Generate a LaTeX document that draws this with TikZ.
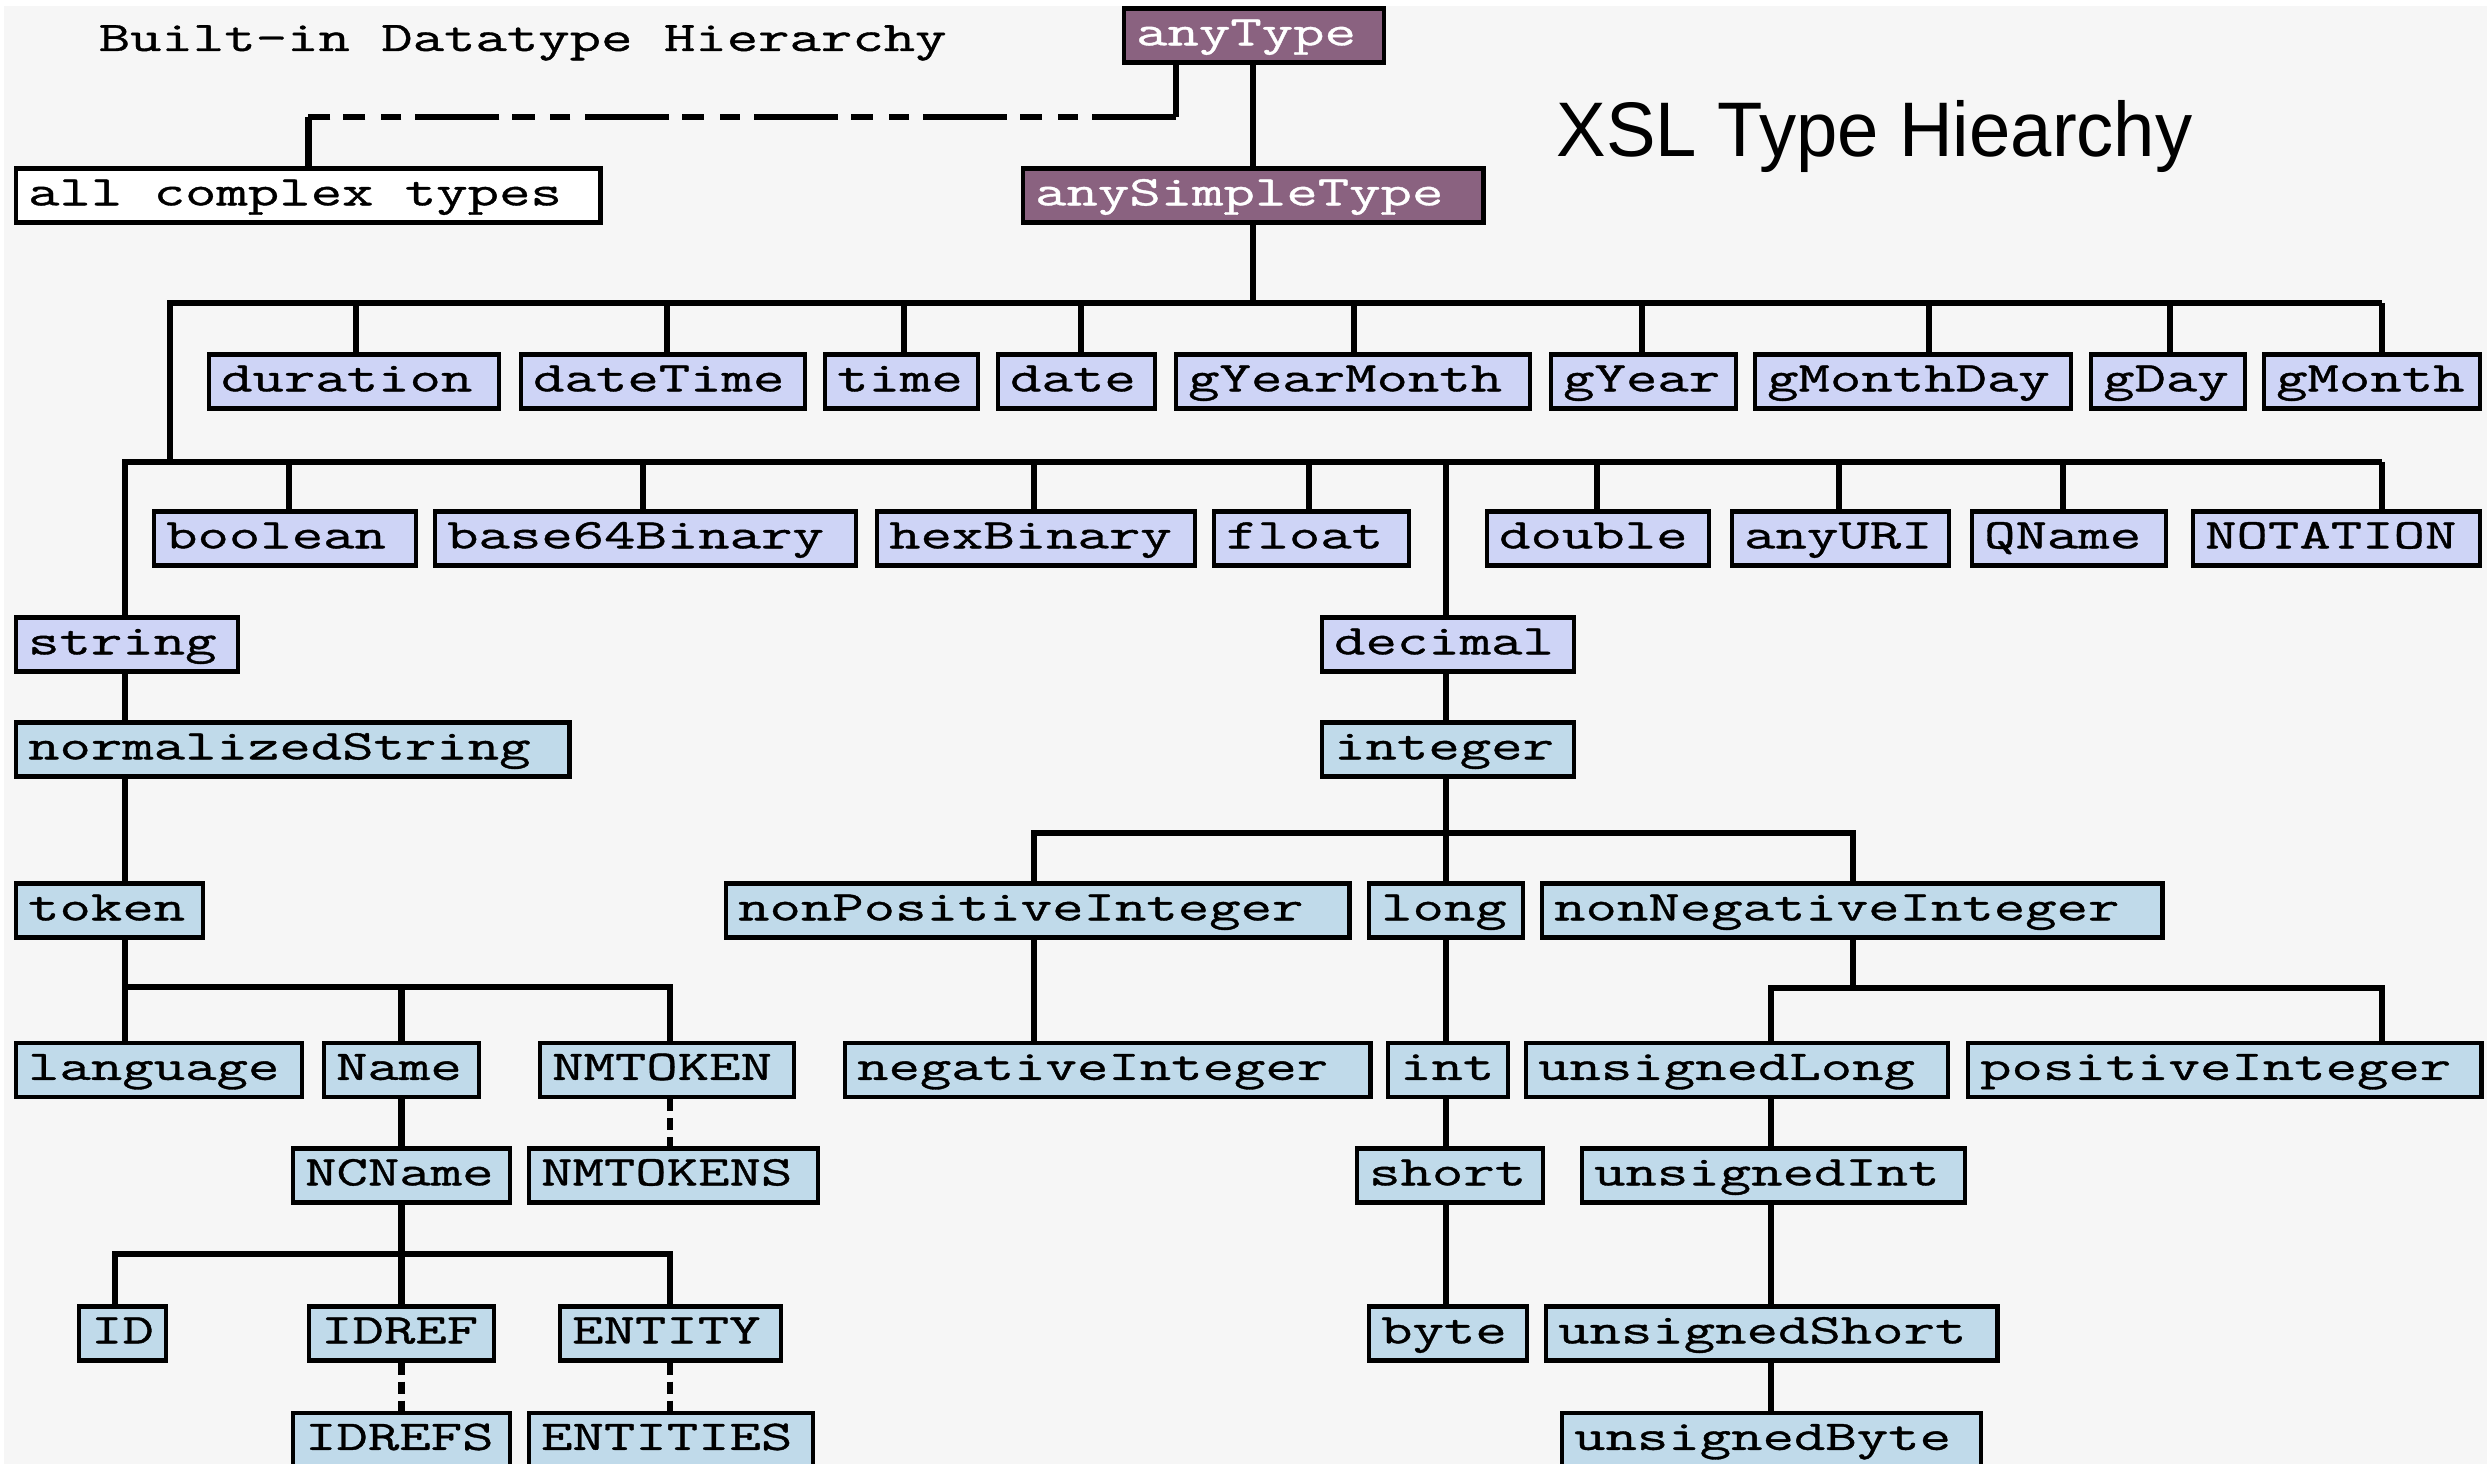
\documentclass[tikz,border=0pt]{standalone}
\usepackage{fontspec}
\newfontfamily\boxfont[FakeStretch=1.445,FakeBold=0.9]{Latin Modern Mono}
\newfontfamily\headfont[FakeStretch=0.96]{Liberation Sans}
\definecolor{bgcol}{RGB}{246,246,246}
\definecolor{primcol}{RGB}{206,212,246}
\definecolor{derivcol}{RGB}{192,218,234}
\definecolor{rootcol}{RGB}{138,98,128}
\tikzset{
  box/.style={draw=black,line width=1.2pt,anchor=west,inner xsep=0.12cm,inner ysep=0pt,
    minimum height=0.54cm,text height=8.6pt,text depth=3.0pt,align=left,
    font=\boxfont\fontsize{12}{13}\selectfont},
  prim/.style={box,fill=primcol},
  deriv/.style={box,fill=derivcol},
  roottype/.style={box,fill=rootcol,text=white},
  link/.style={line width=1.9pt},
  weak/.style={dash pattern=on 3.4pt off 2pt},
  mixed/.style={dash pattern=on 23.9pt off 4pt on 5.7pt off 4.5pt on 6.3pt off 3.7pt}
}
\newcommand{\gap}{\hphantom{x}}
\begin{document}
\begin{tikzpicture}[x=0.01cm,y=-0.01cm]
\useasboundingbox (0,0) rectangle (2487,1464);
\fill[white] (0,0) rectangle (2487,1464);
\fill[bgcol] (4,6) rectangle (2487,1464);
%% titles
\node[anchor=base west,inner sep=0pt,font=\boxfont\fontsize{12}{13}\selectfont] (builtinTitle) at (98,51) {Built-in\gap Datatype\gap Hierarchy};
\node[anchor=base west,inner sep=0pt,font=\headfont\fontsize{22}{24}\selectfont] (xslTitle) at (1556,157) {XSL Type Hiearchy};
%% Node: roots
\node[roottype,text width=2.36cm] (anyType) at (1122,35.5) {anyType};
\node[box,fill=white,text width=5.60cm] (complexTypes) at (14,195.5) {all\gap complex\gap types};
\node[roottype,text width=4.36cm] (anySimpleType) at (1021,195.5) {anySimpleType};
%% Node: primitives, first row
\node[prim,text width=2.66cm] (duration) at (207,381.5) {duration};
\node[prim,text width=2.60cm] (dateTime) at (519,381.5) {dateTime};
\node[prim,text width=1.29cm] (time) at (823,381.5) {time};
\node[prim,text width=1.33cm] (date) at (996,381.5) {date};
\node[prim,text width=3.30cm] (gYearMonth) at (1174,381.5) {gYearMonth};
\node[prim,text width=1.61cm] (gYear) at (1549,381.5) {gYear};
\node[prim,text width=2.92cm] (gMonthDay) at (1753,381.5) {gMonthDay};
\node[prim,text width=1.30cm] (gDay) at (2089,381.5) {gDay};
\node[prim,text width=1.92cm] (gMonth) at (2262,381.5) {gMonth};
%% Node: primitives, second row
\node[prim,text width=2.38cm] (boolean) at (152,538.5) {boolean};
\node[prim,text width=3.97cm] (base64Binary) at (433,538.5) {base64Binary};
\node[prim,text width=2.94cm] (hexBinary) at (875,538.5) {hexBinary};
\node[prim,text width=1.71cm] (float) at (1212,538.5) {float};
\node[prim,text width=1.98cm] (double) at (1485,538.5) {double};
\node[prim,text width=1.93cm] (anyURI) at (1730,538.5) {anyURI};
\node[prim,text width=1.70cm] (QName) at (1970,538.5) {QName};
\node[prim,text width=2.63cm] (NOTATION) at (2191,538.5) {NOTATION};
\node[prim,text width=1.98cm] (string) at (14,644.5) {string};
\node[prim,text width=2.28cm] (decimal) at (1320,644.5) {decimal};
%% Node: string types
\node[deriv,text width=5.29cm] (normalizedString) at (14,749.5) {normalizedString};
\node[deriv,text width=1.63cm] (token) at (14,910.5) {token};
\node[deriv,text width=2.62cm] (language) at (14,1070) {language};
\node[deriv,text width=1.31cm] (Name) at (322,1070) {Name};
\node[deriv,text width=2.30cm] (NMTOKEN) at (538,1070) {NMTOKEN};
\node[deriv,text width=1.93cm] (NCName) at (291,1175.5) {NCName};
\node[deriv,text width=2.65cm] (NMTOKENS) at (527,1175.5) {NMTOKENS};
\node[deriv,text width=0.63cm] (ID) at (77,1333.5) {ID};
\node[deriv,text width=1.61cm] (IDREF) at (307,1333.5) {IDREF};
\node[deriv,text width=1.97cm] (ENTITY) at (558,1333.5) {ENTITY};
\node[deriv,text width=1.93cm] (IDREFS) at (291,1440) {IDREFS};
\node[deriv,text width=2.60cm] (ENTITIES) at (527,1440) {ENTITIES};
%% Node: numeric types
\node[deriv,text width=2.28cm] (integer) at (1320,749.5) {integer};
\node[deriv,text width=5.99cm] (nonPositiveInteger) at (724,910.5) {nonPositiveInteger};
\node[deriv,text width=1.30cm] (long) at (1367,910.5) {long};
\node[deriv,text width=5.96cm] (nonNegativeInteger) at (1540,910.5) {nonNegativeInteger};
\node[deriv,text width=5.01cm] (negativeInteger) at (843,1070) {negativeInteger};
\node[deriv,text width=0.96cm] (int) at (1386,1070) {int};
\node[deriv,text width=3.98cm] (unsignedLong) at (1524,1070) {unsignedLong};
\node[deriv,text width=4.89cm] (positiveInteger) at (1966,1070) {positiveInteger};
\node[deriv,text width=1.62cm] (short) at (1355,1175.5) {short};
\node[deriv,text width=3.59cm] (unsignedInt) at (1580,1175.5) {unsignedInt};
\node[deriv,text width=1.34cm] (byte) at (1367,1333.5) {byte};
\node[deriv,text width=4.27cm] (unsignedShort) at (1544,1333.5) {unsignedShort};
\node[deriv,text width=3.95cm] (unsignedByte) at (1560,1440) {unsignedByte};
%% Edge: anyType -> all complex types
\coordinate (cplx) at (1176,117);
\draw[link] (anyType.south -| cplx) -- (cplx);
\draw[link,mixed] (cplx) -- (cplx -| complexTypes);
\draw[link] (cplx -| complexTypes) -- (complexTypes.north);
%% Edge: anyType -> anySimpleType -> primitives
\coordinate (busA) at (170,303);
\coordinate (busAend) at (2382,303);
\coordinate (busB) at (125,462);
\coordinate (busBend) at (2382,462);
\coordinate (simpleX) at (1253,303);
\draw[link] (anyType.south -| simpleX) -- (anySimpleType.north -| simpleX);
\draw[link] (anySimpleType.south -| simpleX) -- (simpleX);
\draw[link] (busAend) -- (busA) -- (busA |- busB);
\draw[link] (busBend) -- (busB) -- (string.north -| busB);
\foreach \n/\x in {duration/356,dateTime/667,time/904,date/1081,gYearMonth/1354,
    gYear/1642,gMonthDay/1929,gDay/2170,gMonth/2382}{
  \coordinate (tip) at (\x,303);
  \draw[link] (tip) -- (\n.north -| tip);
}
\foreach \n/\x in {boolean/289,base64Binary/643,hexBinary/1034,float/1309,double/1597,
    anyURI/1839,QName/2063,NOTATION/2382}{
  \coordinate (tip) at (\x,462);
  \draw[link] (tip) -- (\n.north -| tip);
}
%% Edge: string branch
\draw[link] (string.south -| busB) -- (normalizedString.north -| busB);
\draw[link] (normalizedString.south -| busB) -- (token.north -| busB);
\coordinate (busT) at (125,987);
\coordinate (busTend) at (670,987);
\draw[link] (token.south -| busT) -- (busT) -- (busTend) -- (NMTOKEN.north -| busTend);
\draw[link] (busT) -- (language.north -| busT);
\draw[link] (Name.north) -- (Name.north |- busT);
\draw[link] (Name.south) -- (NCName.north -| Name.south);
\draw[link,weak] (NMTOKEN.south -| busTend) -- (NMTOKENS.north -| busTend);
\coordinate (busN) at (115,1254);
\coordinate (busNend) at (670,1254);
\draw[link] (NCName.south -| Name.south) -- (busN -| Name.south);
\draw[link] (ID.north -| busN) -- (busN) -- (busNend) -- (ENTITY.north -| busNend);
\draw[link] (IDREF.north -| Name.south) -- (busN -| Name.south);
\draw[link,weak] (IDREF.south -| Name.south) -- (IDREFS.north -| Name.south);
\draw[link,weak] (ENTITY.south -| busNend) -- (ENTITIES.north -| busNend);
%% Edge: decimal branch
\coordinate (decX) at (1446,462);
\draw[link] (decX) -- (decimal.north -| decX);
\draw[link] (decimal.south -| decX) -- (integer.north -| decX);
\draw[link] (integer.south -| decX) -- (long.north -| decX);
\draw[link] (long.south -| decX) -- (int.north -| decX);
\draw[link] (int.south -| decX) -- (short.north -| decX);
\draw[link] (short.south -| decX) -- (byte.north -| decX);
\coordinate (busI) at (1034,833);
\coordinate (busIend) at (1853,833);
\draw[link] (nonPositiveInteger.north -| busI) -- (busI) -- (busIend) -- (nonNegativeInteger.north -| busIend);
\draw[link] (nonPositiveInteger.south -| busI) -- (negativeInteger.north -| busI);
\coordinate (busU) at (1771,988);
\coordinate (busUend) at (2382,988);
\draw[link] (nonNegativeInteger.south -| busIend) -- (busIend |- busU);
\draw[link] (unsignedLong.north -| busU) -- (busU) -- (busUend) -- (positiveInteger.north -| busUend);
\draw[link] (unsignedLong.south -| busU) -- (unsignedInt.north -| busU);
\draw[link] (unsignedInt.south -| busU) -- (unsignedShort.north -| busU);
\draw[link] (unsignedShort.south -| busU) -- (unsignedByte.north -| busU);
\end{tikzpicture}
\end{document}
